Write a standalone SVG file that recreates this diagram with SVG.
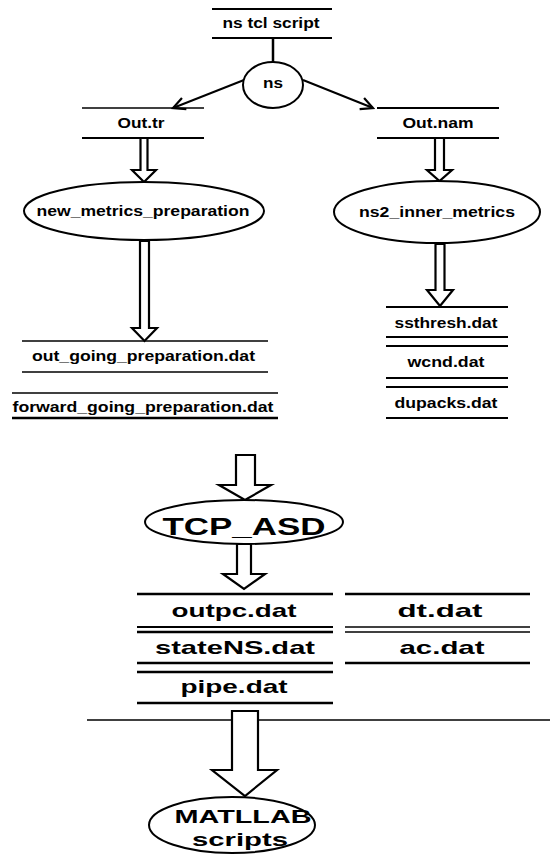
<svg xmlns="http://www.w3.org/2000/svg" width="550" height="855" viewBox="0 0 550 855">
<style>
.t{font-family:"Liberation Sans",Arial,sans-serif;font-weight:bold;fill:#000;text-anchor:middle}
.s{font-size:15px}
.m{font-size:19px}
.ln{stroke:#000;stroke-width:2;fill:none}
.thin{stroke:#000;stroke-width:1.5;fill:none}
.sh{stroke:#000;stroke-width:2;fill:none}
.blk{stroke:#000;stroke-width:2.2;fill:#fff;stroke-linejoin:miter}
.el{stroke:#000;stroke-width:2;fill:#fff}
</style>
<defs>
<marker id="open" markerUnits="userSpaceOnUse" markerWidth="16" markerHeight="16" viewBox="0 0 16 16" refX="14" refY="8" orient="auto">
<path d="M2,2 L14,8 L2,14" fill="none" stroke="#000" stroke-width="2.2"/>
</marker>
</defs>
<rect width="550" height="855" fill="#fff"/>

<g id="connectors">
<line class="ln" x1="273" y1="38" x2="273" y2="62" style="stroke-width:2.5"/>
<line class="ln" x1="244" y1="80" x2="173" y2="108" marker-end="url(#open)"/>
<line class="ln" x1="303" y1="80" x2="373" y2="108" marker-end="url(#open)"/>
<polygon class="blk" points="140.5,138 147.5,138 147.5,170 156,170 144,182 132,170 140.5,170"/>
<polygon class="blk" points="435,138 444,138 444,170 452,170 439.5,181 427,170 435,170"/>
<polygon class="blk" points="140,241 149,241 149,328 157,328 144.5,341 132,328 140,328"/>
<polygon class="blk" points="435.5,244 444.5,244 444.5,290 453,290 440,306 427,290 435.5,290"/>
<polygon class="blk" points="236,455 255,455 255,485 271,485 245,500 219,485 236,485"/>
<polygon class="blk" points="237,544 251,544 251,574 265,574 244,589 223,574 237,574"/>
<line class="thin" x1="87" y1="720" x2="550" y2="720"/>
<polygon class="blk" points="232,711 258,711 258,770 277,770 245,796 212,770 232,770"/>
</g>

<g id="ns-tcl-script">
<line class="ln" x1="212" y1="9" x2="332" y2="9"/>
<line class="ln" x1="212" y1="38" x2="332" y2="38"/>
<text class="t" x="271" y="28" font-size="14" textLength="97" lengthAdjust="spacingAndGlyphs">ns tcl script</text>
</g>

<g id="ns">
<ellipse class="el" cx="273" cy="85" rx="30" ry="23"/>
<text class="t s" x="273" y="88" textLength="20" lengthAdjust="spacingAndGlyphs">ns</text>
</g>

<g id="out-tr">
<line class="thin" x1="82" y1="108" x2="204" y2="108"/>
<line class="ln" x1="82" y1="138" x2="204" y2="138"/>
<text class="t s" x="141" y="128" textLength="47" lengthAdjust="spacingAndGlyphs">Out.tr</text>
</g>

<g id="out-nam">
<line class="ln" x1="377" y1="108" x2="499" y2="108"/>
<line class="ln" x1="377" y1="138" x2="499" y2="138"/>
<text class="t s" x="438" y="128" textLength="71" lengthAdjust="spacingAndGlyphs">Out.nam</text>
</g>

<g id="new-metrics-preparation">
<ellipse class="el" cx="144" cy="211" rx="120" ry="29"/>
<text class="t s" x="143" y="216" textLength="213" lengthAdjust="spacingAndGlyphs">new_metrics_preparation</text>
</g>

<g id="ns2-inner-metrics">
<ellipse class="el" cx="437" cy="212" rx="103" ry="31"/>
<text class="t s" x="437" y="217" textLength="156" lengthAdjust="spacingAndGlyphs">ns2_inner_metrics</text>
</g>

<g id="out-going-preparation">
<line class="thin" x1="22" y1="341" x2="268" y2="341"/>
<line class="thin" x1="22" y1="372" x2="268" y2="372"/>
<text class="t s" x="143.5" y="361" textLength="223" lengthAdjust="spacingAndGlyphs">out_going_preparation.dat</text>
</g>

<g id="forward-going-preparation">
<line class="thin" x1="12" y1="393" x2="278" y2="393"/>
<line class="ln" x1="12" y1="418" x2="278" y2="418" style="stroke-width:2.5"/>
<text class="t s" x="143" y="412" textLength="261" lengthAdjust="spacingAndGlyphs">forward_going_preparation.dat</text>
</g>

<g id="ssthresh">
<line class="ln" x1="386" y1="307" x2="508" y2="307"/>
<line class="ln" x1="386" y1="337" x2="508" y2="337"/>
<text class="t s" x="446" y="328" textLength="103" lengthAdjust="spacingAndGlyphs">ssthresh.dat</text>
</g>
<g id="wcnd">
<line class="ln" x1="386" y1="346" x2="508" y2="346"/>
<line class="ln" x1="386" y1="378" x2="508" y2="378"/>
<text class="t s" x="446" y="367" textLength="77" lengthAdjust="spacingAndGlyphs">wcnd.dat</text>
</g>
<g id="dupacks">
<line class="ln" x1="386" y1="387" x2="508" y2="387"/>
<line class="ln" x1="386" y1="418" x2="508" y2="418"/>
<text class="t s" x="446" y="408" textLength="103" lengthAdjust="spacingAndGlyphs">dupacks.dat</text>
</g>

<g id="tcp-asd">
<ellipse class="el" cx="244" cy="522" rx="99" ry="22"/>
<text class="t" x="244" y="535" font-size="24" textLength="163" lengthAdjust="spacingAndGlyphs">TCP_ASD</text>
</g>

<g id="outpc">
<line class="ln" x1="137" y1="594" x2="333" y2="594" style="stroke-width:2.5"/>
<line class="ln" x1="137" y1="627" x2="333" y2="627"/>
<text class="t m" x="234" y="617" textLength="125" lengthAdjust="spacingAndGlyphs">outpc.dat</text>
</g>
<g id="statens">
<line class="ln" x1="137" y1="632" x2="333" y2="632" style="stroke-width:2.5"/>
<line class="ln" x1="137" y1="663" x2="333" y2="663" style="stroke-width:2.5"/>
<text class="t m" x="235" y="654" textLength="160" lengthAdjust="spacingAndGlyphs">stateNS.dat</text>
</g>
<g id="pipe">
<line class="ln" x1="137" y1="672" x2="333" y2="672" style="stroke-width:2.5"/>
<line class="ln" x1="137" y1="703" x2="333" y2="703" style="stroke-width:2.5"/>
<text class="t m" x="234" y="693" textLength="107" lengthAdjust="spacingAndGlyphs">pipe.dat</text>
</g>
<g id="dt">
<line class="ln" x1="345" y1="594" x2="530" y2="594" style="stroke-width:2.5"/>
<line class="thin" x1="345" y1="627" x2="530" y2="627"/>
<text class="t m" x="440" y="617" textLength="85" lengthAdjust="spacingAndGlyphs">dt.dat</text>
</g>
<g id="ac">
<line class="thin" x1="345" y1="632" x2="530" y2="632"/>
<line class="ln" x1="345" y1="663" x2="530" y2="663" style="stroke-width:2.5"/>
<text class="t m" x="442" y="654" textLength="85" lengthAdjust="spacingAndGlyphs">ac.dat</text>
</g>

<g id="matlab-scripts">
<ellipse class="el" cx="232" cy="825" rx="83" ry="28"/>
<text class="t m" x="243" y="823" textLength="137" lengthAdjust="spacingAndGlyphs">MATLLAB</text>
<text class="t m" x="240" y="846" textLength="96" lengthAdjust="spacingAndGlyphs">scripts</text>
</g>
</svg>
